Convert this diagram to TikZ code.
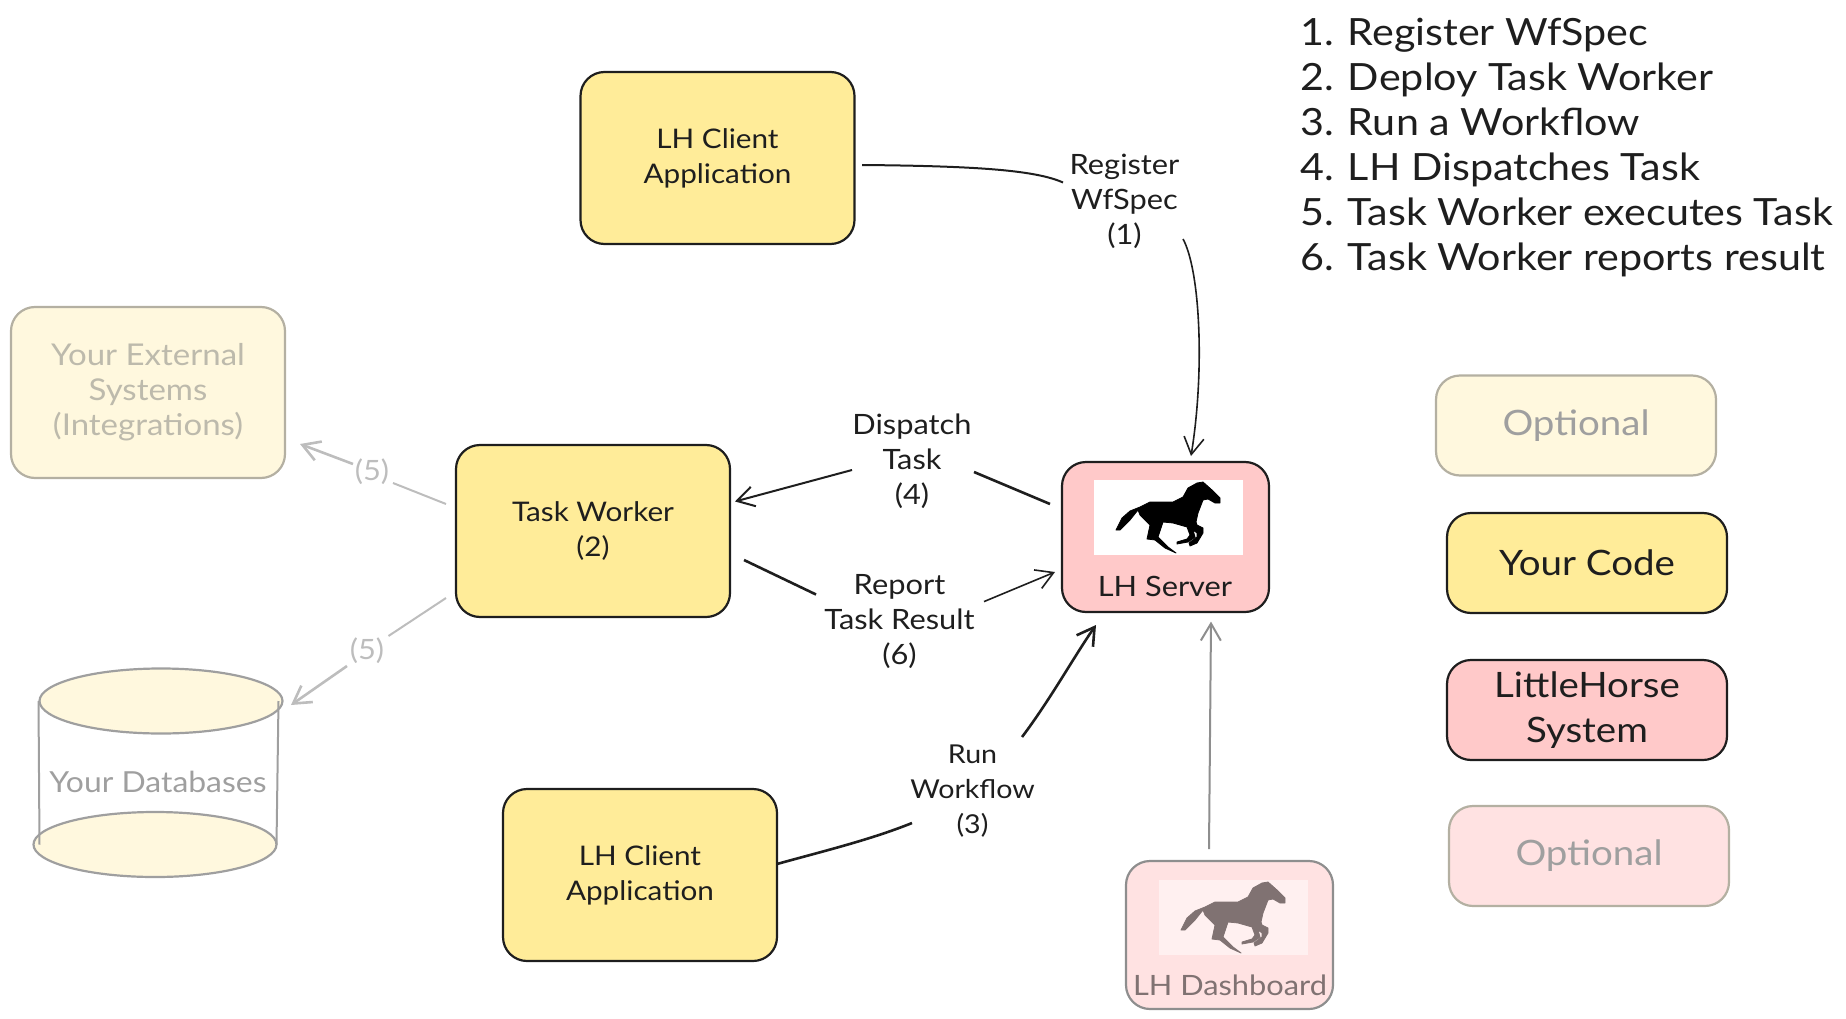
\documentclass[tikz,border=0pt]{standalone}
\usepackage{fontspec}
\setmainfont[FakeStretch=1.1]{Lato}
\usetikzlibrary{arrows.meta,shapes.geometric}
\definecolor{ink}{HTML}{1E1E1E}
\definecolor{codefill}{HTML}{FFEC99}
\definecolor{sysfill}{HTML}{FFC9C9}
\definecolor{paleyellow}{HTML}{FFF8DE}
\definecolor{palepink}{HTML}{FFE2E2}
\definecolor{palewhite}{HTML}{FFF0F0}
\definecolor{paledraw}{HTML}{B4B0A2}
\definecolor{paletext}{HTML}{BDBAAC}
\definecolor{dashdraw}{HTML}{8E8E8E}
\definecolor{dashink}{HTML}{807272}
\definecolor{linkgray}{HTML}{BDBDBD}
\tikzset{
  >={Straight Barb[length=17pt,width=20pt]},
  box/.style={draw,rounded corners=24pt,line width=2.2pt,align=center,outer sep=0pt,
    font=\fontsize{27}{35}\selectfont},
  codebox/.style={box,draw=ink,fill=codefill,text=ink,minimum width=274pt,minimum height=172pt},
  optbox/.style={box,draw=paledraw,fill=paleyellow,text=paletext,minimum width=274pt,minimum height=171pt,
    font=\fontsize{30}{35}\selectfont},
  serverbox/.style={box,fill=sysfill,draw=ink,minimum width=207pt,minimum height=150pt},
  dashbox/.style={box,fill=palepink,draw=dashdraw,minimum width=207pt,minimum height=148pt},
  legendbox/.style={box,minimum width=280pt,minimum height=100pt,font=\fontsize{35}{45}\selectfont},
  tag/.style={align=center,inner sep=0pt,text=ink,font=\fontsize{28}{35}\selectfont},
  dbend/.style={draw=dashdraw!85,ellipse,fill=paleyellow,line width=2.2pt,
    minimum width=243pt,minimum height=65pt,inner sep=0pt,outer sep=0pt},
  link/.style={ink,line width=1.6pt},
  boldlink/.style={ink,line width=2.6pt},
  palelink/.style={linkgray,line width=2pt},
  pics/horse/.style={code={
    \filldraw[#1,line width=.8pt,line join=round] (22,50) -- (28,38) -- (36,31) -- (46,27) -- (56,22)
      -- (79,22) -- (89,17) -- (94,8) -- (103,3) -- (109,2) -- (118,10) -- (126,18) -- (126,23)
      -- (121,23) -- (114,19) -- (109,20) -- (104,33) -- (102,42) -- (103,45) -- (109,48)
      -- (109,53) -- (103,63) -- (96,66) -- (95,63) -- (103,57) -- (103,53) -- (99,50)
      -- (101,57) -- (94,62) -- (83,64) -- (83,62) -- (93,59) -- (96,55) -- (93,47) -- (79,43)
      -- (69,42) -- (64,57) -- (74,67) -- (82,73) -- (71,68) -- (61,60) -- (53,59) -- (56,45)
      -- (46,35) -- (44,30) -- (36,40) -- (26,50) -- cycle;
  }}
}
\begin{document}
\begin{tikzpicture}[x=1pt,y=-1pt]
\useasboundingbox (0,0) rectangle (1846,1019);
\node[codebox] (client1) at (717.5,158) {LH Client\\Application};
\node[codebox] (worker) at (593,531) {Task Worker\\(2)};
\node[codebox] (client2) at (640,875) {LH Client\\Application};
\node[optbox] (external) at (148,392.5) {Your External\\Systems\\(Integrations)};

\node[serverbox] (server) at (1165.5,537) {};
\node[fill=white,minimum width=149pt,minimum height=75pt,inner sep=0pt] (serverlogo) at (1168.5,517.5) {};
\pic at (1094,480) {horse=black};
\node[tag] (serverlabel) at (1165,586) {LH Server};

\node[dashbox] (dashboard) at (1229.5,935) {};
\node[fill=palewhite,minimum width=149pt,minimum height=75pt,inner sep=0pt] (dashlogo) at (1233.5,917.5) {};
\pic at (1159,880) {horse=dashink};
\node[tag,text=dashink] (dashlabel) at (1230,985.5) {LH Dashboard};

\node[dbend] (dbtop) at (161,701) {};
\node[dbend] (dbbot) at (155,844.5) {};
\draw[draw=dashdraw!85,line width=2pt] ([xshift=-1pt]dbtop.west) -- ([xshift=6pt]dbbot.west);
\draw[draw=dashdraw!85,line width=2pt] ([xshift=-4pt]dbtop.east) -- (dbbot.east);
\node[tag,text=dashdraw!85,font=\fontsize{29}{35}\selectfont] (dblabel) at (158,782) {Your Databases};

\node[tag] (register) at (1124.5,201.5) {Register\\WfSpec\\(1)};
\node[tag] (dispatch) at (912,461.5) {Dispatch\\Task\\(4)};
\node[tag] (report) at (899.5,621.5) {Report\\Task Result\\(6)};
\node[tag,font=\fontsize{26}{35}\selectfont] (run) at (972.5,791.5) {Run\\Workflow\\(3)};
\node[tag,text=linkgray] (five1) at (372,472) {(5)};
\node[tag,text=linkgray] (five2) at (367,651) {(5)};

\draw[link,line width=2pt] ([xshift=144.5pt,yshift=-7pt]client1.center) .. controls (975,166) and (1035,170) .. ([xshift=-61.5pt,yshift=19pt]register.center);
\draw[link,->] ([xshift=58.5pt,yshift=-37.5pt]register.center) .. controls (1200,270) and (1205,370) .. ([xshift=25.5pt,yshift=81pt]server.center);
\draw[boldlink] ([xshift=-115.5pt,yshift=33pt]server.center) -- ([xshift=62pt,yshift=-10.5pt]dispatch.center);
\draw[link,line width=2pt,->] ([xshift=-60pt,yshift=-8.5pt]dispatch.center) -- ([xshift=142pt,yshift=29.5pt]worker.center);
\draw[boldlink] ([xshift=151pt,yshift=-29pt]worker.center) -- ([xshift=-83.5pt,yshift=27pt]report.center);
\draw[link,->] ([xshift=84.5pt,yshift=19.9pt]report.center) -- ([xshift=-110.5pt,yshift=-35pt]server.center);
\draw[boldlink] ([xshift=137pt,yshift=11pt]client2.center) .. controls (820,852) and (870,840) .. ([xshift=-60.5pt,yshift=-31.5pt]run.center);
\draw[boldlink,->] ([xshift=49.5pt,yshift=54.5pt]run.center) .. controls (1050,700) and (1075,655) .. ([xshift=-69.5pt,yshift=-88pt]server.center);
\draw[draw=dashdraw,line width=2pt,->] ([xshift=-20.5pt,yshift=86pt]dashboard.center) -- ([xshift=45.5pt,yshift=-84.6pt]server.center);
\draw[palelink] ([xshift=-147pt,yshift=27pt]worker.center) -- ([xshift=21pt,yshift=-11pt]five1.center);
\draw[palelink,line width=2.6pt,->] ([xshift=-19pt,yshift=8pt]five1.center) -- ([xshift=152pt,yshift=-51.5pt]external.center);
\draw[palelink] ([xshift=-147pt,yshift=-67pt]worker.center) -- ([xshift=21.5pt,yshift=15pt]five2.center);
\draw[palelink,line width=2.6pt,->] ([xshift=-20pt,yshift=-15pt]five2.center) -- ([xshift=130pt,yshift=-4pt]dbtop.center);

\node[legendbox,draw=paledraw,fill=paleyellow,text=dashdraw!85] (optyellow) at (1576,425.5) {Optional};
\node[legendbox,draw=ink,fill=codefill,text=ink] (yourcode) at (1587,563) {Your Code};
\node[legendbox,draw=ink,fill=sysfill,text=ink] (lhsystem) at (1587,710) {LittleHorse\\System};
\node[legendbox,draw=paledraw,fill=palepink,text=dashdraw!85] (optpink) at (1589,856) {Optional};

\node[anchor=north west,align=left,inner sep=0pt,text=ink,font=\fontsize{37.5}{45}\selectfont] (steps) at (1300,18) {1. Register WfSpec\\2. Deploy Task Worker\\3. Run a Workflow\\4. LH Dispatches Task\\5. Task Worker executes Task\\6. Task Worker reports result};
\end{tikzpicture}
\end{document}
